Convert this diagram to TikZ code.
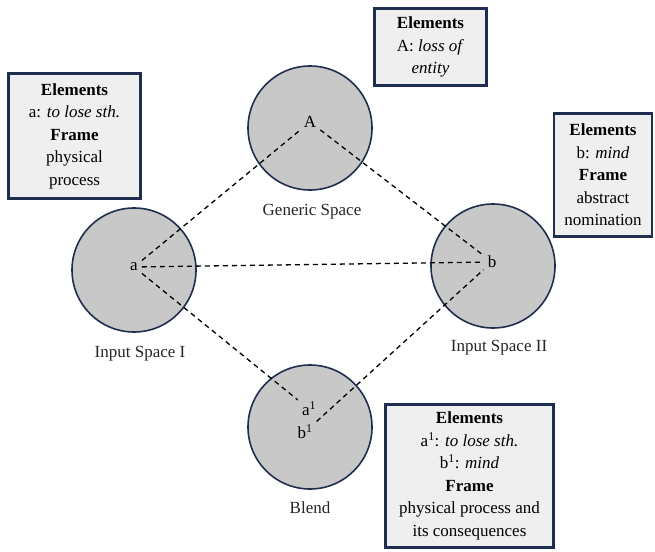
\documentclass[tikz,border=0pt]{standalone}
\usepackage{fontspec}
\setmainfont{Liberation Serif}
\begin{document}
\begin{tikzpicture}[x=1pt,y=-1pt,
  space/.style={circle,draw=navy,line width=1.6pt,fill=circgray,minimum size=124pt,inner sep=0pt},
  infobox/.style={draw=navy,line width=2.5pt,fill=boxgray,align=center,inner sep=2pt,font=\fontsize{17}{22.5}\selectfont},
  lett/.style={font=\fontsize{17}{20}\selectfont,inner sep=4pt},
  spacecaption/.style={font=\fontsize{17}{20}\selectfont,inner sep=0pt,text=black!85},
  link/.style={dashed,line width=1.3pt,dash pattern=on 5pt off 4pt}]
\definecolor{navy}{HTML}{1F2D4E}
\definecolor{circgray}{HTML}{C8C8C8}
\definecolor{boxgray}{HTML}{EFEFEF}
\useasboundingbox (0,0) rectangle (655,551);
% circles
\node[space] (gen) at (310,128) {};
\node[space] (in1) at (134,270) {};
\node[space] (in2) at (493,266) {};
\node[space] (bl) at (310,427) {};
% letters
\node[lett] (A) at (310,122) {A};
\node[lett] (a) at (134,267) {a};
\node[lett] (b) at (492,262) {b};
\node[lett] (a1) at (309,409) {a\textsuperscript{1}};
\node[lett] (b1) at (305,432) {b\textsuperscript{1}};
% captions
\node[spacecaption] (capgen) at (312,212) {Generic Space};
\node[spacecaption] (capin1) at (140,354) {Input Space I};
\node[spacecaption] (capin2) at (499,348) {Input Space II};
\node[spacecaption] (capbl) at (310,508) {Blend};
% links
\draw[link] (a) -- (A);
\draw[link] (A) -- (b);
\draw[link] (a) -- (b);
\draw[link] (a) -- (a1);
\draw[link] (b1) -- (b);
% boxes
\node[infobox,minimum width=132pt,minimum height=125pt] (box1) at (74.5,136)
  {\textbf{Elements}\\ a: \textit{to lose sth.}\\ \textbf{Frame}\\ physical\\ process};
\node[infobox,minimum width=112pt,minimum height=77pt] (box2) at (430.5,47)
  {\textbf{Elements}\\ A: \textit{loss of}\\ \textit{entity}};
\node[infobox,minimum width=98pt,minimum height=123pt] (box3) at (603,175)
  {\textbf{Elements}\\ b: \textit{mind}\\ \textbf{Frame}\\ abstract\\ nomination};
\node[infobox,minimum width=168pt,minimum height=143pt] (box4) at (469.5,476)
  {\textbf{Elements}\\ a\textsuperscript{1}: \textit{to lose sth.}\\ b\textsuperscript{1}: \textit{mind}\\ \textbf{Frame}\\ physical process and\\ its consequences};
\end{tikzpicture}
\end{document}
